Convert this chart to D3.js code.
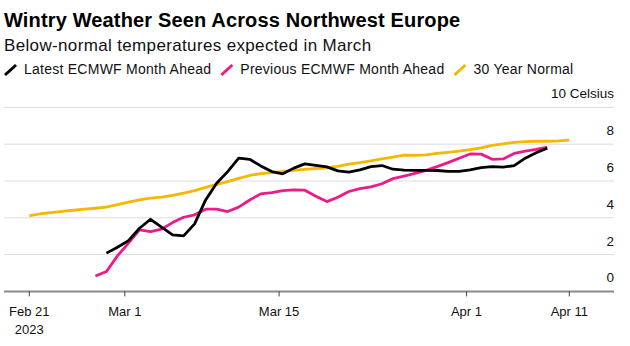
<!DOCTYPE html>
<html>
<head>
<meta charset="utf-8">
<script src="https://cdn.jsdelivr.net/npm/d3@7"></script>
<style>
  html, body { margin: 0; padding: 0; background: #fff; }
  svg { display: block; font-family: "Liberation Sans", Arial, sans-serif; }
</style>
</head>
<body>
<svg id="chart" width="630" height="346"></svg>
<script>
// Daily temperature series, °C
const normalStart = "2023-02-21";
const normalValues = [4.1, 4.22, 4.28, 4.35, 4.41, 4.47, 4.52, 4.58, 4.72, 4.85,
  4.97, 5.07, 5.12, 5.22, 5.34, 5.48, 5.65, 5.82, 5.97, 6.14,
  6.3, 6.4, 6.46, 6.52, 6.58, 6.63, 6.68, 6.72, 6.8, 6.92,
  7.0, 7.1, 7.2, 7.3, 7.4, 7.4, 7.42, 7.5, 7.56, 7.62,
  7.7, 7.8, 7.94, 8.02, 8.1, 8.14, 8.16, 8.16, 8.18, 8.22];

const latestStart = "2023-02-28";
const latestValues = [2.08, 2.4, 2.76, 3.43, 3.92, 3.49, 3.07, 3.02, 3.67, 4.97,
  5.88, 6.51, 7.24, 7.18, 6.82, 6.51, 6.39, 6.7, 6.93, 6.85,
  6.77, 6.55, 6.48, 6.6, 6.78, 6.84, 6.64, 6.59, 6.58, 6.58,
  6.57, 6.52, 6.52, 6.6, 6.73, 6.78, 6.75, 6.84, 7.24, 7.54, 7.78];

const previousStart = "2023-02-27";
const previousValues = [0.84, 1.08, 1.93, 2.62, 3.34, 3.25, 3.38, 3.74, 4.03, 4.16,
  4.47, 4.47, 4.34, 4.58, 4.97, 5.3, 5.37, 5.48, 5.52, 5.5,
  5.17, 4.88, 5.12, 5.43, 5.58, 5.68, 5.85, 6.13, 6.27, 6.42,
  6.58, 6.78, 7.0, 7.24, 7.47, 7.46, 7.18, 7.2, 7.5, 7.62, 7.72, 7.84];

const seriesNames = ["Latest ECMWF Month Ahead", "Previous ECMWF Month Ahead", "30 Year Normal"];
const seriesColors = ["#000000", "#ec1a8a", "#f5b800"];

// Axis ticks: the inner ticks fall in the afternoon of their day
const tickDates = ["2023-02-21T00:00", "2023-03-01T16:00", "2023-03-15T16:00", "2023-04-01T16:00", "2023-04-11T00:00"];
const yTicks = [0, 2, 4, 6, 8, 10];

const parse = d3.timeParse("%Y-%m-%dT%H:%M");
const day = s => parse(s + "T00:00");

function toPoints(start, values) {
  const t0 = day(start);
  return values.map((v, i) => ({ date: d3.timeDay.offset(t0, i), value: v }));
}

const series = [
  { name: seriesNames[0], color: seriesColors[0], points: toPoints(latestStart, latestValues) },
  { name: seriesNames[1], color: seriesColors[1], points: toPoints(previousStart, previousValues) },
  { name: seriesNames[2], color: seriesColors[2], points: toPoints(normalStart, normalValues) }
];

const svg = d3.select("#chart");
const plotLeft = 4, plotRight = 614;

const x = d3.scaleTime()
  .domain([day("2023-02-21"), day("2023-04-11")])
  .range([29.3, 569.3]);
const y = d3.scaleLinear().domain([0, 10]).range([291.4, 107.4]);

// Title block
svg.append("text").attr("x", 4).attr("y", 27)
  .attr("font-size", 20).attr("font-weight", "bold").attr("letter-spacing", 0.15).attr("fill", "#000")
  .text("Wintry Weather Seen Across Northwest Europe");
svg.append("text").attr("x", 4).attr("y", 51)
  .attr("font-size", 17).attr("letter-spacing", 0.35).attr("fill", "#111")
  .text("Below-normal temperatures expected in March");

// Legend
const legend = svg.append("g");
let lx = 5;
series.forEach(s => {
  legend.append("line")
    .attr("x1", lx).attr("y1", 75).attr("x2", lx + 11).attr("y2", 65)
    .attr("stroke", s.color).attr("stroke-width", 3);
  const t = legend.append("text").attr("x", lx + 19).attr("y", 74)
    .attr("font-size", 14).attr("letter-spacing", 0.25).attr("fill", "#111")
    .text(s.name);
  lx += 19 + t.node().getComputedTextLength() + 10;
});

// Gridlines and y labels
const grid = svg.append("g");
yTicks.filter(v => v > 0).forEach(v => {
  grid.append("line")
    .attr("x1", plotLeft).attr("x2", plotRight)
    .attr("y1", y(v)).attr("y2", y(v))
    .attr("stroke", "#dcdcdc").attr("stroke-width", 1);
});
grid.selectAll("text.ylab").data(yTicks).join("text")
  .attr("class", "ylab")
  .attr("x", plotRight).attr("y", d => y(d) - 9)
  .attr("text-anchor", "end").attr("font-size", 13.5).attr("fill", "#111")
  .text(d => d === 10 ? "10 Celsius" : d);

// Lines (normal drawn first, underneath)
const line = d3.line().x(d => x(d.date)).y(d => y(d.value));
svg.append("g").selectAll("path").data(series.slice().reverse()).join("path")
  .attr("d", d => line(d.points))
  .attr("fill", "none")
  .attr("stroke", d => d.color)
  .attr("stroke-width", 2.8)
  .attr("stroke-linejoin", "round");

// X axis
const axisG = svg.append("g");
axisG.append("line")
  .attr("x1", plotLeft).attr("x2", plotRight)
  .attr("y1", y(0)).attr("y2", y(0))
  .attr("stroke", "#8a8a8a").attr("stroke-width", 2);
const fmt = d3.timeFormat("%b %-d");
tickDates.map(parse).forEach((d, i) => {
  const tx = x(d);
  axisG.append("line")
    .attr("x1", tx).attr("x2", tx).attr("y1", y(0)).attr("y2", y(0) + 5)
    .attr("stroke", "#444").attr("stroke-width", 1);
  axisG.append("text").attr("x", tx).attr("y", 316)
    .attr("text-anchor", "middle").attr("font-size", 13).attr("fill", "#111")
    .text(fmt(d));
  if (i === 0) {
    axisG.append("text").attr("x", tx).attr("y", 334)
      .attr("text-anchor", "middle").attr("font-size", 13).attr("fill", "#111")
      .text(d3.timeFormat("%Y")(d));
  }
});
</script>
</body>
</html>
